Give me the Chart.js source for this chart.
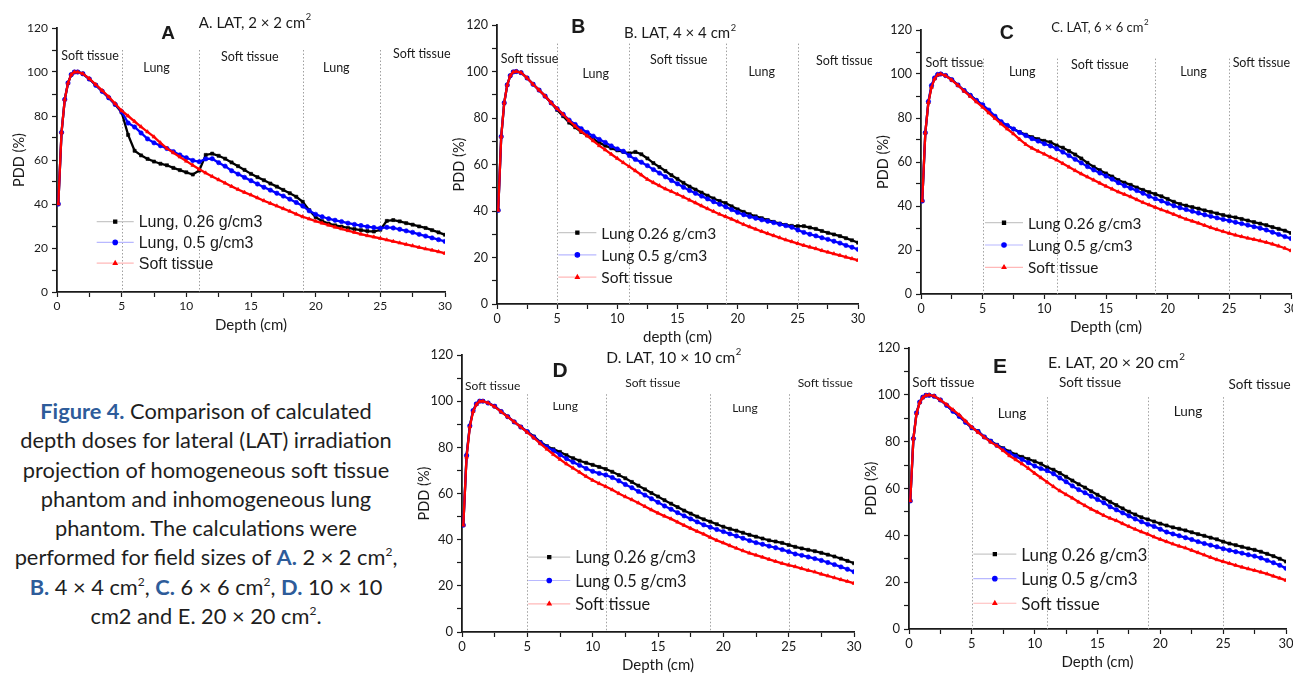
<!DOCTYPE html>
<html>
<head>
<meta charset="utf-8">
<script src="https://cdn.jsdelivr.net/npm/chart.js@4.4.0/dist/chart.umd.min.js"></script>
<style>
  body { margin: 0; width: 1293px; height: 676px; background: #fff; position: relative; overflow: hidden; font-family: Lato, sans-serif; }
  canvas { position: absolute; }
  #cap { position: absolute; left: 0; top: 396px; width: 412px; text-align: center; font-size: 21.8px; line-height: 29.3px; color: #1e1e1e; }
  #cap b { color: #2e5c9a; }
  #cap sup { font-size: 12px; vertical-align: 9px; line-height: 0; }
</style>
</head>
<body>
<canvas id="chartA"></canvas>
<canvas id="chartB"></canvas>
<canvas id="chartC"></canvas>
<canvas id="chartD"></canvas>
<canvas id="chartE"></canvas>
<div id="cap"><b>Figure 4.</b> Comparison of calculated<br>depth doses for lateral (LAT) irradiation<br>projection of homogeneous soft tissue<br>phantom and inhomogeneous lung<br>phantom. The calculations were<br>performed for field sizes of <b>A.</b> 2 × 2 cm<sup>2</sup>,<br><b>B.</b> 4 × 4 cm<sup>2</sup>, <b>C.</b> 6 × 6 cm<sup>2</sup>, <b>D.</b> 10 × 10<br>cm2 and E. 20 × 20 cm<sup>2</sup>.</div>
<script>
// depth (cm), shared by every panel
const depth = [0.1,0.35,0.6,0.85,1.1,1.35,1.6,
  2,2.5,3,3.5,4,4.5,5,5.5, 6,6.5,7,7.5,8,8.5,9,9.5, 10,10.5,11,11.5,12,12.5,13,13.5,
  14,14.5,15,15.5,16,16.5,17,17.5, 18,18.5,19,19.5,20,20.5,21,21.5, 22,22.5,23,23.5,24,24.5,25,25.5,
  26,26.5,27,27.5,28,28.5,29,29.5, 30];

const boundaries = [5, 11, 19, 25];
const regionNames = ["Soft tissue", "Lung", "Soft tissue", "Lung", "Soft tissue"];
const legendA = ["Lung, 0.26 g/cm3", "Lung, 0.5 g/cm3", "Soft tissue"];
const legendOther = ["Lung 0.26 g/cm3", "Lung 0.5 g/cm3", "Soft tissue"];

// A. LAT 2x2
const aLung026 = [40,72.5,87.5,95,98.8,100,100,
  99.2,96.8,94,91.2,88.3,85.2,81.6,71.4, 64.2,62.1,60.5,59.3,58.3,57.6,56.4,55.4,
  54.4,53.4,55.2,62.3,62.9,61.9,60.6,58.9, 57.2,55.5,53.7,52.2,50.8,49.3,47.9,46.4,
  44.9,43.3,41,37.2,34,32.2,31.1,30.3, 29.7,29.1,28.6,28.1,27.7,27.5,28.3,32.3,
  32.7,32.1,31.3,30.6,29.8,29.1,28.1,27.1, 26];
const aLung05 = [40,72.5,87.5,95,98.8,100,100,
  99.2,96.8,94,91.2,88.3,85.3,82,76.8, 75,72.3,69.6,67.8,66.5,65.2,63.8,62.3,
  61,59.8,59.2,60.5,60.6,58.8,57.2,55.1, 53.6,52.1,50.6,49.1,47.6,46.3,44.9,43.6,
  42.2,40.7,39.1,36.9,35.3,34.2,33.3,32.6, 32,31.3,30.7,30.2,29.7,29.3,29,29.4,
  29.1,28.5,27.8,27.1,26.2,25.4,24.6,23.8, 23];
const aSoft = [40,72.5,87.5,95,98.8,100,100,
  99.2,97,94.3,91.5,88.7,85.6,82.4,80, 77.5,75.1,72.8,70.5,67.8,65.3,63.3,61.4,
  59.5,57.6,55.8,54.1,52.5,51,49.5,48, 46.6,45.3,44.1,42.8,41.5,40.3,39.1,37.9,
  36.7,35.4,34.2,33.2,32.2,31.3,30.4,29.5, 28.7,27.9,27.1,26.3,25.6,25,24.4,23.7,
  23,22.3,21.6,21,20.3,19.6,19,18.3, 17.6];

// B. LAT 4x4
const bLung026 = [40.3,72,86.5,94.2,98.2,99.8,100,
  99.5,97.2,94.5,92,89.4,86.5,83.5,80.8, 78,76,74,72.5,71,69.4,68.1,67,
  66.1,65.4,64.8,65.4,64.4,62.6,60.6,58.9, 57.2,55.4,53.8,52.1,50.5,49.2,47.9,46.6,
  45.4,44.3,43.4,42,40.7,39.6,38.6,37.7, 36.9,36.1,35.3,34.6,34,33.6,33.5,33.5,
  32.9,32.3,31.4,30.6,29.9,29.2,28.3,27.4, 26.4];
const bLung05 = [40.3,72,86.5,94.2,98.2,99.8,100,
  99.5,97.2,94.5,92,89.4,86.5,84,81.6, 79.1,77.2,75.4,73.8,72.2,70.8,69.5,68,
  66.7,65.7,63.8,62.2,61,59.5,57.8,56.3, 54.7,53.1,51.7,50.2,48.8,47.6,46.4,45.2,
  44,42.9,41.8,40.6,39.4,38.4,37.6,36.9, 36.2,35.6,35,34.3,33.7,33,31.8,30.8,
  30,29.3,28.5,27.8,27,26.2,25.2,24.4, 23.5];
const bSoft = [40.3,72,86.5,94.2,98.2,99.8,100,
  99.5,97.2,94.5,92,89.4,86.5,84,81.5, 78.8,76.5,74.2,72.3,70.2,68.1,66.3,64.4,
  62.6,60.8,59.1,57.3,55.5,53.6,52.2,50.9, 49.5,48.4,47.2,46,44.7,43.5,42.2,41,
  39.8,38.6,37.6,36.5,35.4,34.2,33.2,32.2, 31.2,30.3,29.4,28.5,27.6,26.8,26,25.2,
  24.5,23.8,23,22.3,21.6,20.9,20.2,19.5, 18.8];

// C. LAT 6x6
const cLung026 = [42.3,73.3,87.1,94.3,98,99.7,100,
  99.3,97.4,95,92.5,90.3,88,85.8,82.8, 80.5,78,76.5,75,73.6,72.4,71.3,70.4,
  69.6,69,67.5,66.5,65,63.4,61.6,59.6, 57.8,56.3,54.8,53.4,51.8,50.6,49.6,48.4,
  47.3,46.3,45.4,44.4,43.2,41.9,40.9,40.2, 39.5,38.8,38,37.3,36.6,35.9,35.3,34.8,
  34.1,33.4,32.7,32,31.3,30.4,29.6,28.8, 27.7];
const cLung05 = [42.3,73.3,87.5,94.8,98.2,99.8,100,
  99.3,97.4,95,92.5,90.3,88,86,83.6, 80.8,78.3,76.6,75,73.4,72,70.6,69.5,
  68.3,67.3,66,64.5,62.9,61.2,59.6,57.9, 56.4,55,53.6,52.2,50.6,49.2,48.1,47,
  45.8,44.4,43.3,42.3,41.2,40.1,39.2,38.4, 37.6,36.8,36,35.3,34.6,33.9,33.3,32.6,
  32,31.3,30.6,29.9,29.1,28.1,27.1,26.1, 25.2];
const cSoft = [42.3,73.3,87.1,94,97.8,99.6,100,
  99.2,97.2,94.8,92.2,89.8,87.3,84.9,82.3, 79.8,77.3,75,72.8,70.3,68,66.3,64.9,
  63.6,62.2,60.9,59.3,57.7,56.1,54.6,53.2, 51.8,50.4,49,47.7,46.4,45.3,44.2,42.9,
  41.6,40.5,39.4,38.3,37.3,36.2,35.1,34, 33.1,32.2,31.2,30.2,29.3,28.4,27.6,26.8,
  26.1,25.4,24.8,24.2,23.5,22.7,21.8,20.8, 19.7];

// D. LAT 10x10
const dLung026 = [46.3,76.5,89.3,95.9,98.8,100,100,
  99.2,97.8,95.5,93.3,91,88.8,86.8,84.7, 82.3,80.5,79.2,78,76.6,75.3,74.2,73.3,
  72.4,71.5,70.6,69.4,68,66.6,65,63.4, 61.8,60.2,58.7,57.1,55.6,54.1,52.6,51.3,
  50,48.8,47.8,46.7,45.6,44.7,43.9,43, 42.1,41.3,40.5,39.7,39.2,38.6,37.7,36.9,
  36.2,35.6,35,34.3,33.5,32.7,31.8,30.8, 29.8];
const dLung05 = [46.3,76.5,89.3,95.9,98.8,100,100,
  99.2,97.8,95.5,93.3,91,88.8,86.8,84.4, 82,80.2,78.5,76.8,75.1,73.6,72.2,70.8,
  69.6,68.7,68,66.9,65.5,63.9,62.5,60.9, 59.3,57.7,56.2,54.6,53.2,51.7,50.3,49,
  47.7,46.4,45.4,44.4,43.5,42.5,41.6,40.6, 39.6,38.7,38,37.2,36.5,35.7,34.8,33.8,
  33.2,32.5,31.8,31,30.1,29.2,28.2,27.2, 26.1];
const dSoft = [46.3,75.8,88.9,95.5,98.6,100,100,
  99.2,97.6,95.4,93.2,91,88.8,86.5,84.1, 81.6,79.2,76.9,74.8,72.8,71,69.2,67.4,
  65.7,64.3,63,61.6,60,58.6,57.3,55.9, 54.4,52.9,51.5,50.2,49,47.6,46.2,44.9,
  43.6,42.4,41,39.7,38.6,37.4,36.3,35.2, 34.2,33.3,32.4,31.5,30.6,29.7,29,28.3,
  27.5,26.7,26,25.1,24.3,23.5,22.7,21.9, 21.1];

// E. LAT 20x20
const eLung026 = [54.7,81.3,92.3,96.9,99,99.8,99.8,
  99.4,97.8,95.5,93,90.8,88.3,85.8,84.5, 82,80.3,78.6,77.2,75.8,74.5,73.5,72.6,
  71.6,70.6,69,68,66.6,65,63.4,61.8, 60.4,58.8,57.3,55.8,54.3,52.9,51.5,50.1,
  48.9,47.7,46.8,45.9,45,44.2,43.4,42.8, 42.1,41.3,40.5,39.8,39,38.3,37.3,36.5,
  35.8,35.1,34.4,33.8,33,32.1,31.1,30, 28.8];
const eLung05 = [54.7,81.3,92.3,96.9,99,99.8,99.8,
  99.4,97.8,95.5,93,90.8,88.3,86,84.3, 82,80.2,78.4,76.8,75.2,73.7,72.4,71,
  69.6,68.5,67.6,66.3,64.5,62.9,61.1,59.5, 58.2,56.7,55.3,53.9,52.2,50.9,49.6,48.3,
  47,45.8,44.7,43.8,42.6,41.4,40.6,39.8, 39,38.2,37.3,36.5,35.8,35.1,34.3,33.6,
  33,32.4,31.7,31.1,30.3,29.3,28.3,27.2, 25.9];
const eSoft = [54.7,81.3,92,96.7,98.8,99.8,100,
  99.5,97.8,95.8,93.6,91.4,88.8,86.2,84, 81.8,79.8,78.2,76.2,74,72.3,70.5,68.6,
  66.5,64.6,62.7,60.8,59,57.4,55.9,54.2, 52.7,51.2,49.9,48.5,47.3,46.3,45,43.8,
  42.6,41.5,40.5,39.3,38.3,37.3,36.3,35.4, 34.6,33.6,32.6,31.6,30.6,29.6,28.8,28,
  27.2,26.4,25.7,25,24.3,23.5,22.6,21.7, 20.8];

const seriesStyle = [
  { color: '#000000', light: '#c8c8c8', point: 'rect' },
  { color: '#0000ff', light: '#b8b8ff', point: 'circle' },
  { color: '#ff0000', light: '#ffb8b8', point: 'triangle' }
];

// plot-area box in page pixels: [left, right, top(120), bottom(0)]
const panels = [
  { id: 'chartA', box: [57, 445, 28, 292], series: [aLung026, aLung05, aSoft], names: legendA,
    legendFont: '16px "Liberation Sans"', legendAt: [3.07, 32], legendGap: 20.8, legendLine: 37,
    xTitle: 'Depth (cm)', letter: 'A', letterAt: [8.6, 117.6], letterSize: 19,
    title: 'A. LAT, 2 × 2 cm', titleAt: [15.3, 122.4], titleSize: 15, lineTop: 110, tickSize: 12,
    regions: [[2.55, 107.3], [7.7, 102], [14.9, 107], [21.6, 101.7], [28.2, 108]], regionSize: 12.5 },
  { id: 'chartB', box: [497, 858, 25, 304], series: [bLung026, bLung05, bSoft], names: legendOther,
    legendFont: '15.5px Lato', legendAt: [5.1, 30.7], legendGap: 22.3, legendLine: 38,
    xTitle: 'depth (cm)', letter: 'B', letterAt: [6.76, 118.9], letterSize: 19.5,
    title: 'B. LAT, 4 × 4 cm', titleAt: [15.2, 116.4], titleSize: 15, lineTop: 112, tickSize: 12.5,
    regions: [[2.7, 105.4], [8.2, 98.9], [15.1, 105], [22, 99.6], [28.9, 104.5]], regionSize: 12.5 },
  { id: 'chartC', box: [921, 1291, 30, 294], series: [cLung026, cLung05, cSoft], names: legendOther,
    legendFont: '15.3px Lato', legendAt: [5.19, 32.4], legendGap: 22.3, legendLine: 38,
    xTitle: 'Depth (cm)', letter: 'C', letterAt: [6.95, 118.5], letterSize: 19.5,
    title: 'C. LAT, 6 × 6 cm', titleAt: [14.5, 121.2], titleSize: 13, lineTop: 107, tickSize: 12.5,
    regions: [[2.7, 104.9], [8.2, 100.8], [14.5, 104.1], [22.1, 101], [27.6, 104.9]], regionSize: 12.5 },
  { id: 'chartD', box: [462, 854, 355, 632], series: [dLung026, dLung05, dSoft], names: legendOther,
    legendFont: '16.3px Lato', legendAt: [5.07, 32.4], legendGap: 23.3, legendLine: 42,
    xTitle: 'Depth (cm)', letter: 'D', letterAt: [7.5, 112.8], letterSize: 21,
    title: 'D. LAT, 10 × 10 cm', titleAt: [16.2, 118.6], titleSize: 15.5, lineTop: 103, tickSize: 13,
    regions: [[2.35, 106.7], [7.9, 98], [14.6, 107.6], [21.65, 96.9], [27.8, 107.6]], regionSize: 12 },
  { id: 'chartE', box: [909, 1286, 348, 629], series: [eLung026, eLung05, eSoft], names: legendOther,
    legendFont: '17px Lato', legendAt: [5.12, 32], legendGap: 24.6, legendLine: 43,
    xTitle: 'Depth (cm)', letter: 'E', letterAt: [7.24, 111.8], letterSize: 21,
    title: 'E. LAT, 20 × 20 cm', titleAt: [16.5, 113.7], titleSize: 16, lineTop: 99, tickSize: 13,
    regions: [[2.73, 105.2], [8.2, 92.1], [14.4, 105.2], [22.2, 92.8], [27.9, 104.5]], regionSize: 13.5 }
];

const WY = 50, PT = 18, PR = 14, HX = 46;
const ink = '#1a1a1a';

const decor = {
  id: 'decor',
  beforeDatasetsDraw(chart, args, o) {
    const { ctx, scales: { x, y } } = chart;
    ctx.save();
    ctx.strokeStyle = '#a0a0a0';
    ctx.lineWidth = 1;
    ctx.setLineDash([1.5, 2]);
    boundaries.forEach(b => {
      const px = Math.round(x.getPixelForValue(b)) + 0.5;
      ctx.beginPath();
      ctx.moveTo(px, y.getPixelForValue(o.p.lineTop));
      ctx.lineTo(px, y.getPixelForValue(0));
      ctx.stroke();
    });
    ctx.restore();
  },
  afterDatasetsDraw(chart, args, o) {
    const p = o.p;
    const { ctx, scales: { x, y } } = chart;
    ctx.save();
    ctx.fillStyle = ink;
    ctx.textBaseline = 'middle';
    ctx.textAlign = 'center';
    // region labels
    ctx.font = p.regionSize + 'px Lato';
    regionNames.forEach((t, i) => {
      const [rx, ry] = p.regions[i];
      ctx.fillText(t, x.getPixelForValue(rx), y.getPixelForValue(ry));
    });
    // panel letter
    ctx.font = 'bold ' + p.letterSize + 'px "Liberation Sans"';
    ctx.fillText(p.letter, x.getPixelForValue(p.letterAt[0]), y.getPixelForValue(p.letterAt[1]));
    // title with superscript 2
    ctx.font = p.titleSize + 'px Lato';
    const w = ctx.measureText(p.title).width;
    const supSize = p.titleSize * 0.62;
    const tx = x.getPixelForValue(p.titleAt[0]) - (w + supSize * 0.6) / 2;
    const ty = y.getPixelForValue(p.titleAt[1]);
    ctx.textAlign = 'left';
    ctx.fillText(p.title, tx, ty);
    ctx.font = supSize + 'px Lato';
    ctx.fillText('2', tx + w + 0.5, ty - p.titleSize * 0.38);
    // legend
    const lx = x.getPixelForValue(p.legendAt[0]);
    const ly0 = y.getPixelForValue(p.legendAt[1]);
    ctx.font = p.legendFont;
    p.names.forEach((name, i) => {
      const s = seriesStyle[i];
      const ly = ly0 + i * p.legendGap;
      ctx.strokeStyle = s.light;
      ctx.lineWidth = 1.2;
      ctx.beginPath();
      ctx.moveTo(lx, ly);
      ctx.lineTo(lx + p.legendLine, ly);
      ctx.stroke();
      ctx.fillStyle = s.color;
      ctx.strokeStyle = s.color;
      Chart.helpers.drawPoint(ctx, { pointStyle: s.point, radius: 2.2, borderWidth: 1, rotation: 0 }, lx + p.legendLine / 2, ly);
      ctx.fillStyle = ink;
      ctx.fillText(name, lx + p.legendLine + 5, ly + 1);
    });
    ctx.restore();
  }
};

panels.forEach(p => {
  const [L, R, T, B] = p.box;
  const cv = document.getElementById(p.id);
  cv.width = WY + (R - L) + PR;
  cv.height = PT + (B - T) + HX;
  cv.style.left = (L - WY) + 'px';
  cv.style.top = (T - PT) + 'px';

  const datasets = p.series.map((vals, i) => ({
    label: p.names[i],
    data: depth.map((d, k) => ({ x: d, y: vals[k] })),
    borderColor: seriesStyle[i].color,
    backgroundColor: seriesStyle[i].color,
    borderWidth: 2.3,
    pointStyle: seriesStyle[i].point,
    pointRadius: 2.2,
    pointBorderWidth: 0.6,
    order: i === 2 ? 0 : (i === 0 ? 2 : 1)
  }));

  new Chart(cv, {
    type: 'line',
    data: { datasets },
    options: {
      responsive: false,
      animation: false,
      devicePixelRatio: 1,
      layout: { padding: { top: PT, right: PR, left: 0, bottom: 0 } },
      plugins: { legend: { display: false }, tooltip: { enabled: false }, decor: { p } },
      scales: {
        x: {
          type: 'linear', min: 0, max: 30,
          ticks: { stepSize: 2.5, autoSkip: false, maxRotation: 0, padding: 2, color: ink,
                   font: { family: 'Lato', size: p.tickSize },
                   callback: v => (v % 5 === 0 ? v : '') },
          grid: { drawOnChartArea: false, drawTicks: true, tickLength: 5, tickColor: ink, tickWidth: 1.2 },
          border: { color: ink, width: 1.8 },
          title: { display: true, text: p.xTitle, color: ink, font: { family: 'Lato', size: 15 }, padding: { top: 4, bottom: 4 } },
          afterFit: s => { s.height = HX; s.paddingLeft = 0; s.paddingRight = 0; }
        },
        y: {
          min: 0, max: 120,
          ticks: { stepSize: 10, autoSkip: false, padding: 4, color: ink,
                   font: { family: 'Lato', size: p.tickSize },
                   callback: v => (v % 20 === 0 ? v : '') },
          grid: { drawOnChartArea: false, drawTicks: true, tickLength: 5, tickColor: ink, tickWidth: 1.2 },
          border: { color: ink, width: 1.8 },
          title: { display: true, text: 'PDD (%)', color: ink, font: { family: 'Lato', size: 14.5 }, padding: { top: 4, bottom: 4 } },
          afterFit: s => { s.width = WY; s.paddingTop = 0; s.paddingBottom = 0; }
        }
      }
    },
    plugins: [decor]
  });
});
</script>
</body>
</html>
